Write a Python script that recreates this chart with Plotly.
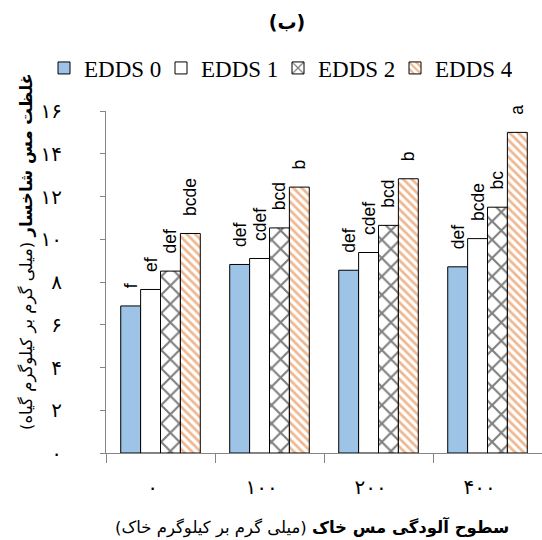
import plotly.graph_objects as go

categories = ["۰", "۱۰۰", "۲۰۰", "۴۰۰"]
series_names = ["EDDS 0", "EDDS 1", "EDDS 2", "EDDS 4"]
edds0 = [6.88, 8.82, 8.55, 8.71]
edds1 = [7.65, 9.10, 9.38, 10.03]
edds2 = [8.51, 10.53, 10.65, 11.50]
edds4 = [10.27, 12.44, 12.83, 15.00]
letters0 = ["f", "def", "def", "def"]
letters1 = ["ef", "cdef", "cdef", "bcde"]
letters2 = ["def", "bcd", "bcd", "bc"]
letters4 = ["bcde", "b", "b", "a"]
ytick_vals = [0, 2, 4, 6, 8, 10, 12, 14, 16]
ytick_text = ["۰", "۲", "۴", "۶", "۸", "۱۰", "۱۲", "۱۴", "۱۶"]

W, H = 542, 540
L, R, T, B = 106, 0, 111, 87
PW, PH = W - L - R, H - T - B

values = [edds0, edds1, edds2, edds4]
letters = [letters0, letters1, letters2, letters4]
fills = [
    dict(color="#9DC3E6"),
    dict(color="white"),
    dict(color="white", pattern=dict(shape="x", fgcolor="black", bgcolor="white", size=13, solidity=0.3)),
    dict(color="white", pattern=dict(shape="\\", fgcolor="#E07020", bgcolor="white", size=6, solidity=0.45)),
]

PAD = "\u00a0\u00a0\u00a0"

fig = go.Figure()
for name, v, lt, f in zip(series_names, values, letters, fills):
    fig.add_trace(go.Bar(
        x=categories, y=v, name=name,
        marker=dict(line=dict(color="black", width=1), **f),
        text=[PAD + s for s in lt], textposition="outside", textangle=-90,
        textfont=dict(family="Liberation Sans", size=17.5, color="black"),
        constraintext="none", cliponaxis=False,
    ))

fig.update_layout(
    width=W, height=H,
    margin=dict(l=L, r=R, t=T, b=B, autoexpand=False),
    paper_bgcolor="white", plot_bgcolor="white",
    barmode="group", bargap=0.27, bargroupgap=0,
    title=dict(text="<b>(ب)</b>", x=287 / W, xref="container", y=1 - 22 / H,
               yref="container", xanchor="center", yanchor="middle",
               font=dict(family="DejaVu Sans", size=19, color="black")),
    legend=dict(orientation="h", xref="paper", yref="paper",
                x=(44 - L) / PW, y=(H - B - 68) / PH, xanchor="left", yanchor="middle",
                entrywidth=72, entrywidthmode="pixels", itemwidth=30,
                font=dict(family="Liberation Serif, serif", size=23, color="black"),
                bgcolor="rgba(0,0,0,0)"),
    showlegend=True,
    xaxis=dict(type="category", showline=True, linecolor="#868686", linewidth=1,
               ticks="outside", tickson="boundaries", ticklen=9, tickcolor="#868686",
               tickfont=dict(family="DejaVu Sans", size=20, color="black"),
               ticklabelshift=-8, ticklabelstandoff=16),
    yaxis=dict(range=[0, 16], tickvals=ytick_vals, ticktext=ytick_text,
               showline=True, linecolor="#868686", linewidth=1, showgrid=False, zeroline=False,
               ticks="outside", ticklen=5, tickcolor="#868686",
               tickfont=dict(family="DejaVu Sans", size=20, color="black"),
               ticklabelstandoff=34),
    annotations=[
        dict(text="\u200f<b>غلظت مس شاخسار</b> (میلی گرم بر کیلوگرم گیاه)\u200f",
             xref="paper", yref="paper", x=-(L - 27) / PW, y=(H - B - 252) / PH,
             xanchor="center", yanchor="middle", textangle=-90, showarrow=False,
             font=dict(family="DejaVu Sans", size=16.5, color="black")),
        dict(text="\u200f<b>سطوح آلودگی مس خاک</b> (میلی گرم بر کیلوگرم خاک)\u200f",
             xref="paper", yref="paper", x=(312 - L) / PW, y=(H - B - 527) / PH,
             xanchor="center", yanchor="middle", showarrow=False,
             font=dict(family="DejaVu Sans", size=16.5, color="black")),
    ],
)

fig.write_html("out.html")
